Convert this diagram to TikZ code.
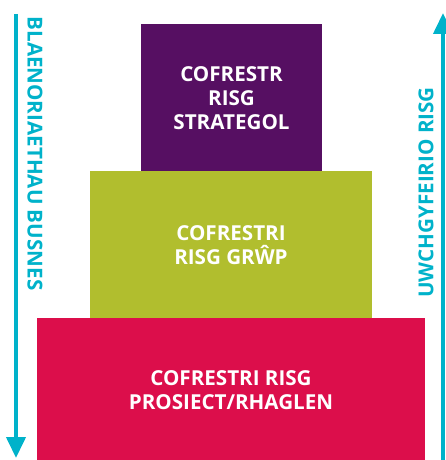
\documentclass[tikz,border=0pt]{standalone}
\usepackage{fontspec}
\setmainfont{Open Sans}
\usetikzlibrary{arrows.meta}
\definecolor{cpurple}{RGB}{86,15,98}
\definecolor{cgreen}{RGB}{177,190,46}
\definecolor{cred}{RGB}{220,14,75}
\definecolor{ccyan}{RGB}{0,178,202}
\begin{document}
\begin{tikzpicture}[x=1pt,y=-1pt,
  tier/.style={fill=#1,draw=none},
  tiertext/.style={text=white,font=\bfseries\fontsize{20.6}{24}\selectfont,align=center,inner sep=0pt},
  sidetext/.style={text=ccyan,font=\bfseries\fontsize{20.6}{24}\selectfont,inner sep=0pt},
  flow/.style={draw=ccyan,line width=4pt,-{Triangle[length=21pt,width=19pt]}}]
\useasboundingbox (0,0) rectangle (446,460);
\fill[cpurple] (141,24) rectangle (322,171);
\fill[cgreen] (90,171) rectangle (372,318);
\fill[cred] (37,318) rectangle (425,460);
\node[tiertext] (t1) at (231.5,98) {COFRESTR\\RISG\\STRATEGOL};
\node[tiertext] (t2) at (231,245) {COFRESTRI\\RISG GRŴP};
\node[tiertext] (t3) at (231,390) {COFRESTRI RISG\\PROSIECT/RHAGLEN};
\coordinate (la) at (16,14);
\coordinate (lb) at (16,458);
\coordinate (ra) at (443,460);
\coordinate (rb) at (443,13);
\draw[flow] (la) -- (lb);
\draw[flow] (ra) -- (rb);
\node[sidetext,rotate=-90] (ls) at (35,153.5) {BLAENORIAETHAU BUSNES};
\node[sidetext,rotate=90] (rs) at (426,192.5) {UWCHGYFEIRIO RISG};
\end{tikzpicture}
\end{document}
